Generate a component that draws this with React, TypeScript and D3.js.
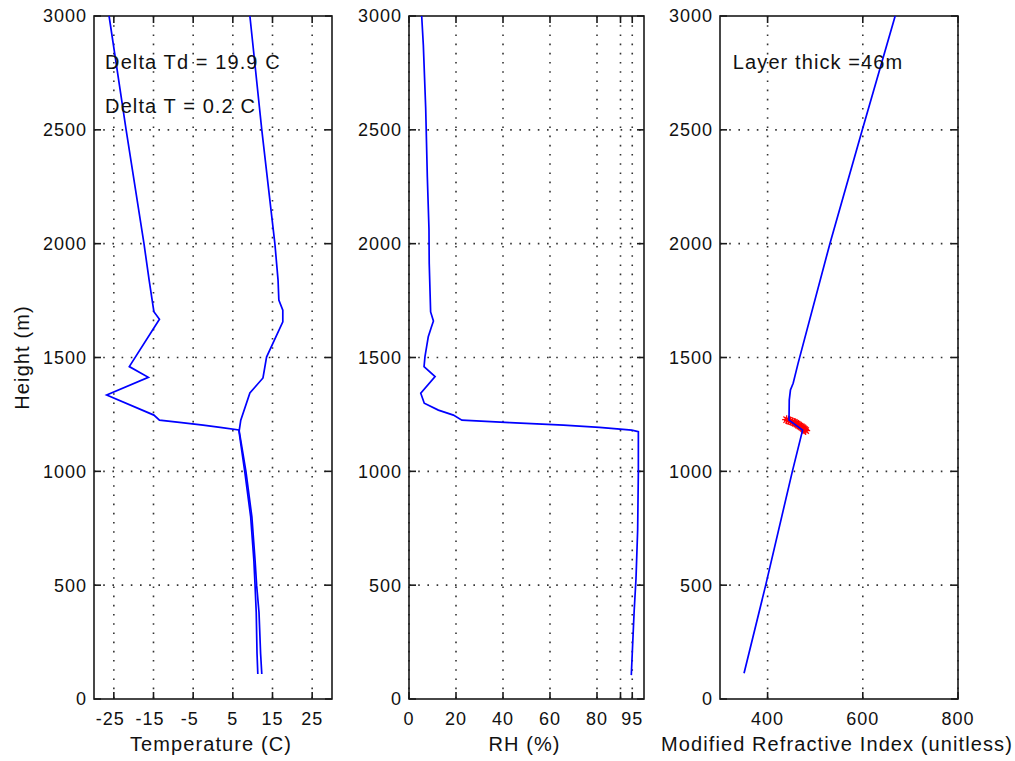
import React from 'react';
import * as d3 from 'd3';

// ---------- data ----------
const tempHeight = [110, 200, 380, 500, 610, 800, 1000, 1178, 1225, 1344, 1410, 1502, 1657, 1708, 1752, 1840, 2000, 2500, 3000];
const tempValue = [12.3, 12.0, 11.6, 11.0, 10.6, 9.8, 8.3, 6.6, 7.0, 9.3, 12.6, 13.5, 17.6, 17.6, 16.6, 16.4, 15.6, 12.3, 9.3];

const dewHeight = [110, 200, 380, 500, 610, 800, 1000, 1182, 1193, 1203, 1214, 1225, 1247, 1335, 1413, 1460, 1668, 1701, 1840, 2000, 2500, 3000];
const dewValue = [11.3, 11.1, 10.9, 10.6, 10.3, 9.5, 8.0, 6.5, 1.8, -2.5, -7.9, -13.5, -14.9, -26.8, -16.3, -21.1, -13.5, -14.9, -16.1, -17.4, -21.9, -26.2];

const rhHeight = [105, 200, 383, 530, 742, 1000, 1174, 1181, 1193, 1203, 1214, 1225, 1247, 1269, 1299, 1343, 1416, 1460, 1504, 1548, 1591, 1630, 1660, 1700, 1915, 2064, 2293, 2596, 2872, 3000];
const rhValue = [94.6, 95.0, 95.8, 96.6, 97.3, 97.6, 97.6, 94.8, 81.0, 65.7, 43.0, 22.5, 18.9, 12.5, 6.5, 5.0, 11.1, 6.4, 6.8, 7.5, 8.2, 9.4, 10.4, 9.2, 8.6, 8.5, 7.8, 7.1, 6.1, 5.4];

const mHeight = [113, 500, 1000, 1181, 1225, 1313, 1357, 1387, 1474, 2001, 2500, 3000];
const mValue = [350.5, 396, 452, 473.5, 445, 445.5, 448, 453.7, 464, 531, 599, 668];

const ductHeight = [1227, 1224, 1221, 1218, 1215, 1211, 1207, 1203, 1199, 1195, 1191, 1187, 1183, 1179];
const ductValue = [440, 444, 448, 452, 456, 459, 462, 465, 468, 471, 474, 476, 478, 480];

const heightTicks = [0, 500, 1000, 1500, 2000, 2500, 3000];
const tempTicks = [-25, -15, -5, 5, 15, 25];
const rhTicks = [0, 20, 40, 60, 80, 90, 95];
const rhTickLabels = ['0', '20', '40', '60', '80', '', '95'];
const mTicks = [400, 600, 800];

const annotations1 = ['Delta Td = 19.9 C', 'Delta T = 0.2 C'];
const annotation3 = 'Layer thick =46m';

// ---------- layout ----------
const W = 1015;
const H = 761;
const TOP = 16;
const BOTTOM = 699;
const FONT = '"Liberation Sans", Arial, Helvetica, sans-serif';
const TICK_FS = 18;
const LABEL_FS = 20;
const TICK_LEN = 7;
const AXIS_COLOR = '#1a1a1a';

type Panel = {
  left: number;
  right: number;
  domain: [number, number];
  ticks: number[];
  labels: string[];
  title: string;
};

const panels: Panel[] = [
  { left: 94, right: 332, domain: [-30, 30], ticks: tempTicks, labels: tempTicks.map(String), title: 'Temperature (C)' },
  { left: 409, right: 644, domain: [0, 100], ticks: rhTicks, labels: rhTickLabels, title: 'RH (%)' },
  { left: 720, right: 958, domain: [300, 800], ticks: mTicks, labels: mTicks.map(String), title: 'Modified Refractive Index (unitless)' },
];

const y = d3.scaleLinear().domain([0, 3000]).range([BOTTOM, TOP]);

function zip(h: number[], v: number[]): [number, number][] {
  return h.map((hh, i) => [v[i], hh]);
}

const starPath = 'M-4.5,0H4.5M0,-4.5V4.5M-3.2,-3.2L3.2,3.2M-3.2,3.2L3.2,-3.2';

function PanelFrame({ p }: { p: Panel }) {
  const x = d3.scaleLinear().domain(p.domain).range([p.left, p.right]);
  const cx = (p.left + p.right) / 2;
  const digitW = TICK_FS * 0.556 + 1;
  return (
    <g>
      {p.ticks.map((t) => (
        <line key={'gx' + t} x1={x(t)} x2={x(t)} y1={TOP} y2={BOTTOM}
          stroke="#333" strokeWidth={1.6} strokeDasharray="1.6 7.6" />
      ))}
      {heightTicks.filter((t) => t > 0 && t < 3000).map((t) => (
        <line key={'gy' + t} x1={p.left} x2={p.right} y1={y(t)} y2={y(t)}
          stroke="#333" strokeWidth={1.6} strokeDasharray="1.6 7.6" />
      ))}
      <rect x={p.left} y={TOP} width={p.right - p.left} height={BOTTOM - TOP}
        fill="none" stroke={AXIS_COLOR} strokeWidth={1.6} />
      {p.ticks.map((t) => (
        <g key={'tx' + t}>
          <line x1={x(t)} x2={x(t)} y1={BOTTOM} y2={BOTTOM - TICK_LEN} stroke={AXIS_COLOR} strokeWidth={1.6} />
          <line x1={x(t)} x2={x(t)} y1={TOP} y2={TOP + TICK_LEN} stroke={AXIS_COLOR} strokeWidth={1.6} />
        </g>
      ))}
      {p.ticks.map((t, i) => {
        const lab = p.labels[i];
        if (!lab) return null;
        const neg = lab.startsWith('-');
        const nd = neg ? lab.length - 1 : lab.length;
        return (
          <text key={'lx' + t}
            x={neg ? x(t) + (nd * digitW) / 2 : x(t)}
            y={725}
            textAnchor={neg ? 'end' : 'middle'}
            fontFamily={FONT} fontSize={TICK_FS} letterSpacing={1} fill="#111">
            {lab}
          </text>
        );
      })}
      {heightTicks.map((t) => (
        <g key={'ty' + t}>
          <line x1={p.left} x2={p.left + TICK_LEN} y1={y(t)} y2={y(t)} stroke={AXIS_COLOR} strokeWidth={1.6} />
          <line x1={p.right} x2={p.right - TICK_LEN} y1={y(t)} y2={y(t)} stroke={AXIS_COLOR} strokeWidth={1.6} />
          <text x={p.left - 7} y={y(t)} dy="0.36em" textAnchor="end"
            fontFamily={FONT} fontSize={TICK_FS} letterSpacing={1} fill="#111">{t}</text>
        </g>
      ))}
      <text x={cx - 2} y={751} textAnchor="middle" fontFamily={FONT}
        fontSize={LABEL_FS} letterSpacing={1.1} fill="#111">{p.title}</text>
    </g>
  );
}

export default function App() {
  const x1 = d3.scaleLinear().domain(panels[0].domain).range([panels[0].left, panels[0].right]);
  const x2 = d3.scaleLinear().domain(panels[1].domain).range([panels[1].left, panels[1].right]);
  const x3 = d3.scaleLinear().domain(panels[2].domain).range([panels[2].left, panels[2].right]);

  const mk = (xs: d3.ScaleLinear<number, number>) =>
    d3.line<[number, number]>().x((d) => xs(d[0])).y((d) => y(d[1]));

  const tempPath = mk(x1)(zip(tempHeight, tempValue)) || '';
  const dewPath = mk(x1)(zip(dewHeight, dewValue)) || '';
  const rhPath = mk(x2)(zip(rhHeight, rhValue)) || '';
  const mPath = mk(x3)(zip(mHeight, mValue)) || '';

  return (
    <div style={{ position: 'absolute', left: 0, top: 0 }}>
      <svg width={W} height={H} viewBox={`0 0 ${W} ${H}`} style={{ display: 'block', background: '#fff' }}>
        <rect x={0} y={0} width={W} height={H} fill="#fff" />
        {panels.map((p, i) => <PanelFrame key={i} p={p} />)}

        <path d={dewPath} fill="none" stroke="#0000ff" strokeWidth={1.7} />
        <path d={tempPath} fill="none" stroke="#0000ff" strokeWidth={1.7} />
        {annotations1.map((t, i) => (
          <text key={t} x={x1(-27.2)} y={y(i === 0 ? 2800 : 2605)} dy="0.35em"
            fontFamily={FONT} fontSize={LABEL_FS} letterSpacing={1.1} fill="#111">{t}</text>
        ))}

        <path d={rhPath} fill="none" stroke="#0000ff" strokeWidth={1.7} />

        {ductHeight.map((h, i) => (
          <path key={'d' + i} d={starPath} transform={`translate(${x3(ductValue[i])},${y(h)})`}
            fill="none" stroke="#ff0000" strokeWidth={1.2} />
        ))}
        <path d={mPath} fill="none" stroke="#0000ff" strokeWidth={1.7} />
        <text x={x3(327)} y={y(2800)} dy="0.35em" fontFamily={FONT} fontSize={LABEL_FS}
          letterSpacing={1.1} fill="#111">{annotation3}</text>

        <text transform={`translate(29,${(TOP + BOTTOM) / 2}) rotate(-90)`} textAnchor="middle"
          fontFamily={FONT} fontSize={LABEL_FS} letterSpacing={1.1} fill="#111">Height (m)</text>
      </svg>
    </div>
  );
}
